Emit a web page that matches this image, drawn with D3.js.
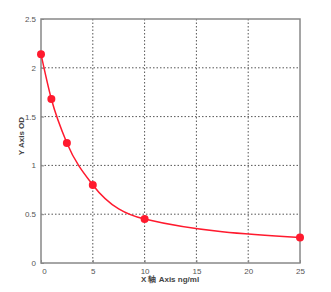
<!DOCTYPE html>
<meta charset="utf-8">
<style>
body { margin: 0; background: #fff; }
.tick text { font: 8px "Liberation Sans", sans-serif; fill: #555; }
.grid line { stroke: #555; stroke-width: 1px; stroke-dasharray: 1.5,2; }
.frame { fill: none; stroke: #888; stroke-width: 1.5px; }
.curve { fill: none; stroke: #ff1a2e; stroke-width: 1.5px; }
.dot { fill: #ff1a2e; }
.label { font: bold 8px "Liberation Sans", sans-serif; fill: #444; }
</style>
<body>
<script src="https://d3js.org/d3.v7.min.js"></script>
<script>

// standard curve data
var concs = [0, 1, 2.5, 5, 10, 25];
var ods = [2.14, 1.68, 1.23, 0.80, 0.45, 0.26];
var xTicks = [0, 5, 10, 15, 20, 25];
var yTicks = [0, 0.5, 1, 1.5, 2, 2.5];

var margin = {top: 19, right: 31, bottom: 29, left: 41},
  width = 331 - margin.left - margin.right,
  height = 292 - margin.top - margin.bottom;

var svg = d3.select("body").append("svg")
  .attr("width", 331)
  .attr("height", 292);

var g = svg.append("g")
  .attr("transform", "translate(" + margin.left + "," + margin.top + ")");

var x = d3.scaleLinear().domain([0, 25]).range([0, width]);
var y = d3.scaleLinear().domain([0, 2.5]).range([height, 0]);

// dotted grid
g.append("g").attr("class", "grid")
  .selectAll("line").data(xTicks.slice(1, -1))
  .enter().append("line")
    .attr("x1", d => x(d)).attr("x2", d => x(d))
    .attr("y1", 0).attr("y2", height);

g.append("g").attr("class", "grid")
  .selectAll("line").data(yTicks.slice(1, -1))
  .enter().append("line")
    .attr("x1", 0).attr("x2", width)
    .attr("y1", d => y(d)).attr("y2", d => y(d));

// axes
var xAxis = g.append("g")
  .attr("transform", "translate(0," + height + ")")
  .call(d3.axisBottom(x).tickValues(xTicks).tickFormat(d3.format("")).tickSize(3).tickPadding(2));
var yAxis = g.append("g")
  .call(d3.axisLeft(y).tickValues(yTicks).tickFormat(d3.format("")).tickSize(3).tickPadding(2));
xAxis.select(".domain").remove();
yAxis.select(".domain").remove();
xAxis.selectAll(".tick line").attr("stroke", "#888").attr("y2", -3);
yAxis.selectAll(".tick line").attr("stroke", "#888").attr("x2", 3);
xAxis.selectAll(".tick").filter(d => d === 0).select("text").attr("dx", 3);

g.append("rect").attr("class", "frame")
  .attr("width", width).attr("height", height);

// curve through points
var line = d3.line()
  .x((d, i) => x(concs[i]))
  .y(d => y(d))
  .curve(d3.curveMonotoneX);

g.append("path").attr("class", "curve")
  .datum(ods)
  .attr("d", line);

g.selectAll(".dot").data(ods)
  .enter().append("circle")
    .attr("class", "dot")
    .attr("cx", (d, i) => x(concs[i]))
    .attr("cy", d => y(d))
    .attr("r", 4);

// axis labels
svg.append("text").attr("class", "label")
  .attr("x", 170).attr("y", 282)
  .attr("text-anchor", "middle")
  .text("X 轴 Axis ng/ml");

svg.append("text").attr("class", "label")
  .attr("transform", "translate(24,136) rotate(-90)")
  .attr("text-anchor", "middle")
  .text("Y Axis OD");

</script>
</body>
